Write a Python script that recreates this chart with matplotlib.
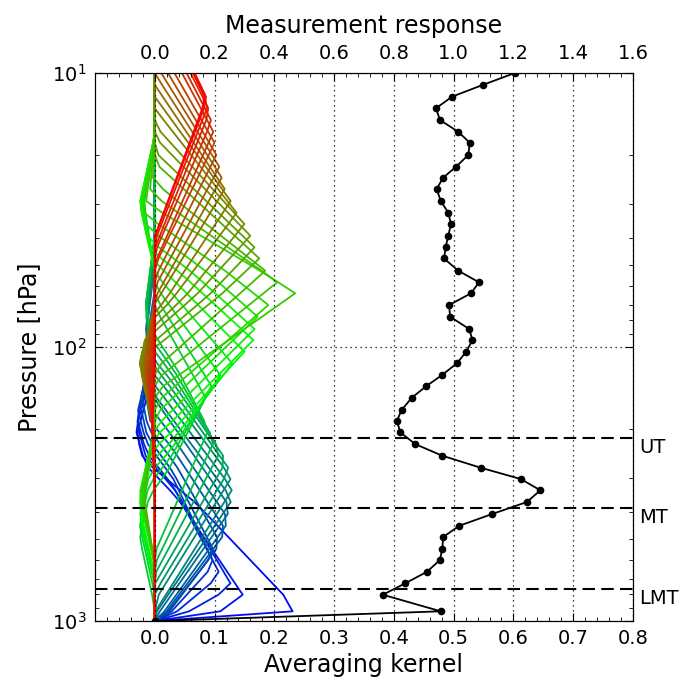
import numpy as np
import matplotlib
matplotlib.use("Agg")
import matplotlib.pyplot as plt
from matplotlib.colors import LinearSegmentedColormap
from matplotlib.ticker import MultipleLocator, FixedLocator

# ---------------- data ----------------
# retrieval levels (hPa), top to bottom
pressure = [10.0, 11.06, 12.2, 13.45, 14.84, 16.38, 17.97, 19.92, 21.98, 24.11,
            26.51, 29.33, 32.36, 35.57, 39.26, 43.26, 47.53, 52.66, 58.05, 63.68,
            70.28, 77.52, 85.98, 94.30, 104.0, 114.7, 126.6, 138.8, 153.1, 169.8,
            186.2, 205.1, 226.3, 249.3, 275.7, 303.3, 333.4, 367.9, 406.9, 449.0,
            493.6, 544.6, 599.0, 660.7, 728.6, 801.7, 921.7, 1000.0]

# measurement response (top axis)
response = [1.205, 1.097, 0.995, 0.941, 0.954, 1.015, 1.054, 1.049, 1.008, 0.965,
            0.943, 0.957, 0.982, 0.991, 0.982, 0.973, 0.968, 1.015, 1.085, 1.058,
            0.985, 0.988, 1.052, 1.063, 1.042, 1.011, 0.961, 0.909, 0.860, 0.826,
            0.810, 0.822, 0.872, 0.962, 1.090, 1.225, 1.290, 1.245, 1.129, 1.019,
            0.965, 0.962, 0.954, 0.911, 0.838, 0.763, 0.957, 0.0]

kernel_peak_p = [12.5, 12.5, 13.0, 13.8, 15.0, 16.4, 18.0, 19.9, 22.0, 24.1,
                 26.5, 29.3, 32.4, 35.6, 39.3, 43.3, 47.5, 52.7, 58.0, 63.7,
                 70.3, 77.5, 86.0, 94.3, 104, 115, 127, 139, 153, 200,
                 220, 240, 260, 280, 300, 330, 360, 390, 430, 470,
                 520, 560, 620, 680, 750, 850, 915]
kernel_peak = [0.085, 0.088, 0.090, 0.092, 0.095, 0.098, 0.100, 0.103, 0.108, 0.112,
               0.117, 0.127, 0.137, 0.150, 0.160, 0.167, 0.175, 0.185, 0.205, 0.235,
               0.190, 0.172, 0.167, 0.165, 0.150, 0.130, 0.110, 0.095, 0.085, 0.090,
               0.100, 0.110, 0.120, 0.125, 0.128, 0.130, 0.130, 0.128, 0.125, 0.120,
               0.110, 0.100, 0.100, 0.110, 0.130, 0.155, 0.240]
kernel_up_width = [0.40, 0.40, 0.40, 0.40, 0.40, 0.40, 0.38, 0.38, 0.38, 0.38,
                   0.38, 0.38, 0.38, 0.36, 0.36, 0.35, 0.35, 0.33, 0.33, 0.33,
                   0.33, 0.33, 0.33, 0.33, 0.33, 0.33, 0.33, 0.33, 0.33, 0.38,
                   0.38, 0.38, 0.38, 0.38, 0.38, 0.38, 0.38, 0.40, 0.40, 0.40,
                   0.42, 0.42, 0.45, 0.45, 0.48, 0.50, 0.55]
kernel_down_width = [0.50, 0.50, 0.50, 0.50, 0.48, 0.48, 0.45, 0.45, 0.44, 0.44,
                     0.42, 0.42, 0.40, 0.40, 0.38, 0.38, 0.36, 0.36, 0.36, 0.36,
                     0.36, 0.36, 0.36, 0.36, 0.36, 0.36, 0.36, 0.36, 0.36, 0.45,
                     0.45, 0.45, 0.45, 0.45, 0.45, 0.45, 0.42, 0.40, 0.38, 0.35,
                     0.32, 0.28, 0.24, 0.20, 0.16, 0.12, 0.08]
kernel_lobe_up_p = [10, 10, 10, 10, 10, 10, 10, 10, 10, 10,
                    10, 10, 10, 10, 10, 10, 10, 30, 30, 30,
                    30, 30, 30, 30, 30, 30, 30, 30, 30, 70,
                    70, 70, 75, 75, 80, 80, 85, 90, 110, 130,
                    150, 160, 170, 180, 190, 200, 210]
kernel_lobe_up_val = [0.0, 0.0, 0.0, 0.0, 0.0, 0.0, 0.0, 0.0, 0.0, 0.0,
                      0.0, 0.0, 0.0, 0.0, 0.0, 0.0, 0.0, -0.005, -0.01, -0.015,
                      -0.02, -0.022, -0.025, -0.025, -0.025, -0.022, -0.02, -0.02, -0.018, -0.015,
                      -0.015, -0.015, -0.015, -0.012, -0.012, -0.012, -0.015, -0.015, -0.018, -0.02,
                      -0.022, -0.025, -0.028, -0.03, -0.03, -0.032, -0.03]
kernel_lobe_low_p = [200, 200, 180, 160, 150, 140, 130, 125, 120, 120,
                     120, 120, 120, 115, 115, 115, 115, 350, 350, 350,
                     350, 350, 350, 350, 380, 400, 420, 450, 500, 900,
                     900, 900, 900, 900, 900, 900, 900, 900, 900, 900,
                     900, 900, 900, 900, 900, 900, 900]
kernel_lobe_low_val = [-0.004, -0.004, -0.005, -0.006, -0.008, -0.010, -0.012, -0.014, -0.016, -0.018,
                       -0.020, -0.022, -0.024, -0.025, -0.025, -0.025, -0.022, -0.018, -0.02, -0.022,
                       -0.024, -0.025, -0.026, -0.026, -0.026, -0.025, -0.025, -0.025, -0.025, 0.0,
                       0.0, 0.0, 0.0, 0.0, 0.0, 0.0, 0.0, 0.0, 0.0, 0.0,
                       0.0, 0.0, 0.0, 0.0, 0.0, 0.0, 0.0]

layer_names = ["UT", "MT", "LMT"]
layer_p = [215, 387, 764]

# ---------------- build kernel matrix ----------------
P = np.array(pressure)
L = np.log10(P)
n_k = len(kernel_peak)
AK = np.zeros((n_k, len(P)))
for i in range(n_k):
    d = L - np.log10(kernel_peak_p[i])
    up = np.clip(1 + d / kernel_up_width[i], 0, None)
    dn = np.clip(1 - d / kernel_down_width[i], 0, None)
    row = kernel_peak[i] * np.where(d < 0, up, dn)
    row += kernel_lobe_up_val[i] * np.clip(1 - np.abs(L - np.log10(kernel_lobe_up_p[i])) / 0.25, 0, None)
    row += kernel_lobe_low_val[i] * np.clip(1 - np.abs(L - np.log10(kernel_lobe_low_p[i])) / 0.25, 0, None)
    row[-1] = 0.0
    AK[i] = row

# ---------------- plot ----------------
plt.rcParams['font.family'] = ['DejaVu Sans']
fig = plt.figure(figsize=(6.86, 6.82), dpi=100)
ax = fig.add_axes([0.1385, 0.0894, 0.7842, 0.8036])

cmap = LinearSegmentedColormap.from_list("rgb3", [(1, 0, 0), (0, 1, 0), (0, 0, 1)])
for i in range(n_k - 1, -1, -1):
    ax.plot(AK[i], P, color=cmap(i / (len(P) - 1)), lw=1.3, zorder=2)

ax.set_yscale('log')
ax.set_ylim(1000, 10)
ax.set_xlim(-0.1, 0.8)
ax.xaxis.set_major_locator(FixedLocator([0.0, 0.1, 0.2, 0.3, 0.4, 0.5, 0.6, 0.7, 0.8]))
ax.xaxis.set_minor_locator(MultipleLocator(0.02))
ax.tick_params(axis='both', which='both', direction='in', labelsize=14)
ax.tick_params(axis='x', which='both', top=False, bottom=True, pad=6)
ax.tick_params(axis='y', which='both', left=True, right=True, pad=6)
ax.tick_params(which='major', length=6)
ax.tick_params(which='minor', length=3)
ax.set_xlabel("Averaging kernel", fontsize=17, labelpad=3)
ax.set_ylabel("Pressure [hPa]", fontsize=17, labelpad=8)
ax.yaxis.grid(True, which='major', linestyle=(0, (1, 3)), color='black', lw=0.9)

for name, lp in zip(layer_names, layer_p):
    ax.axhline(lp, color='black', ls=(0, (6, 3)), lw=1.5, zorder=3)
    ax.text(1.012, lp * 1.08, name, transform=ax.get_yaxis_transform(),
            fontsize=14, va='center', ha='left')

ax2 = ax.twiny()
ax2.set_xlim(-0.2, 1.6)
ax2.xaxis.set_major_locator(FixedLocator([0.0, 0.2, 0.4, 0.6, 0.8, 1.0, 1.2, 1.4, 1.6]))
ax2.xaxis.set_minor_locator(MultipleLocator(0.04))
ax2.tick_params(axis='x', which='both', direction='in', labelsize=14, pad=7)
ax2.tick_params(which='major', length=6)
ax2.tick_params(which='minor', length=3)
ax2.xaxis.grid(True, which='major', linestyle=(0, (1, 3)), color='black', lw=0.9)
ax2.plot(response, P, color='black', lw=1.3, marker='o', ms=4.5, zorder=5)
ax2.set_xlabel("Measurement response", fontsize=17, labelpad=8)
ax2.set_yscale('log')
ax2.set_ylim(1000, 10)

fig.savefig("out.png", dpi=100)
